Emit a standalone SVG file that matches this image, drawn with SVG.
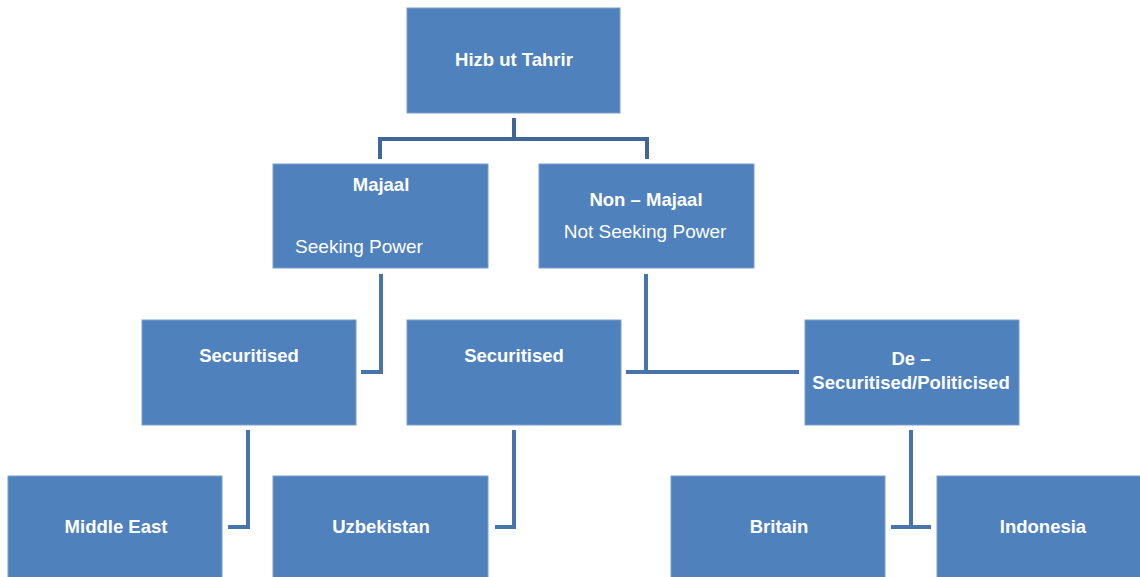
<svg xmlns="http://www.w3.org/2000/svg" width="1140" height="577" viewBox="0 0 1140 577">
<style>
.box{fill:#4f81bd;stroke:#7a9fcf;stroke-width:1}
.t{font-family:"Liberation Sans",Arial,sans-serif;font-size:18.5px;font-weight:bold;fill:#ffffff;text-anchor:middle}
.r{font-family:"Liberation Sans",Arial,sans-serif;font-size:19px;fill:#ffffff;text-anchor:middle}
.c{fill:none;stroke:#4774ab;stroke-width:4;stroke-linejoin:miter}
.c0{fill:none;stroke:#3f6899;stroke-width:4}
</style>
<rect width="1140" height="577" fill="#ffffff"/>
<g id="connectors">
<path class="c0" d="M514,118 V139 M380,159 V139 H647 V159"/>
<path class="c" d="M381,274 V372 H361"/>
<path class="c" d="M646,274 V372 M626,372 H799"/>
<path class="c" d="M248,430 V527 H228"/>
<path class="c" d="M514,430 V527 H495"/>
<path class="c" d="M911,430 V527 M891,527 H931"/>
</g>
<g id="hizb"><rect class="box" x="407" y="8" width="213" height="105"/><text class="t" x="514" y="66">Hizb ut Tahrir</text></g>
<g id="majaal"><rect class="box" x="273" y="164" width="215" height="104"/><text class="t" x="381" y="191">Majaal</text><text class="r" x="359" y="253">Seeking Power</text></g>
<g id="nonmajaal"><rect class="box" x="539" y="164" width="215" height="104"/><text class="t" x="646" y="206">Non – Majaal</text><text class="r" x="645" y="238">Not Seeking Power</text></g>
<g id="securitised1"><rect class="box" x="142" y="320" width="214" height="105"/><text class="t" x="249" y="362">Securitised</text></g>
<g id="securitised2"><rect class="box" x="407" y="320" width="214" height="105"/><text class="t" x="514" y="362">Securitised</text></g>
<g id="desecuritised"><rect class="box" x="805" y="320" width="214" height="105"/><text class="t" x="911" y="365">De –</text><text class="t" x="911" y="389">Securitised/Politicised</text></g>
<g id="middleeast"><rect class="box" x="8" y="476" width="214" height="106"/><text class="t" x="116" y="533">Middle East</text></g>
<g id="uzbekistan"><rect class="box" x="273" y="476" width="215" height="106"/><text class="t" x="381" y="533">Uzbekistan</text></g>
<g id="britain"><rect class="box" x="671" y="476" width="214" height="106"/><text class="t" x="779" y="533">Britain</text></g>
<g id="indonesia"><rect class="box" x="937" y="476" width="214" height="106"/><text class="t" x="1043" y="533">Indonesia</text></g>
</svg>
